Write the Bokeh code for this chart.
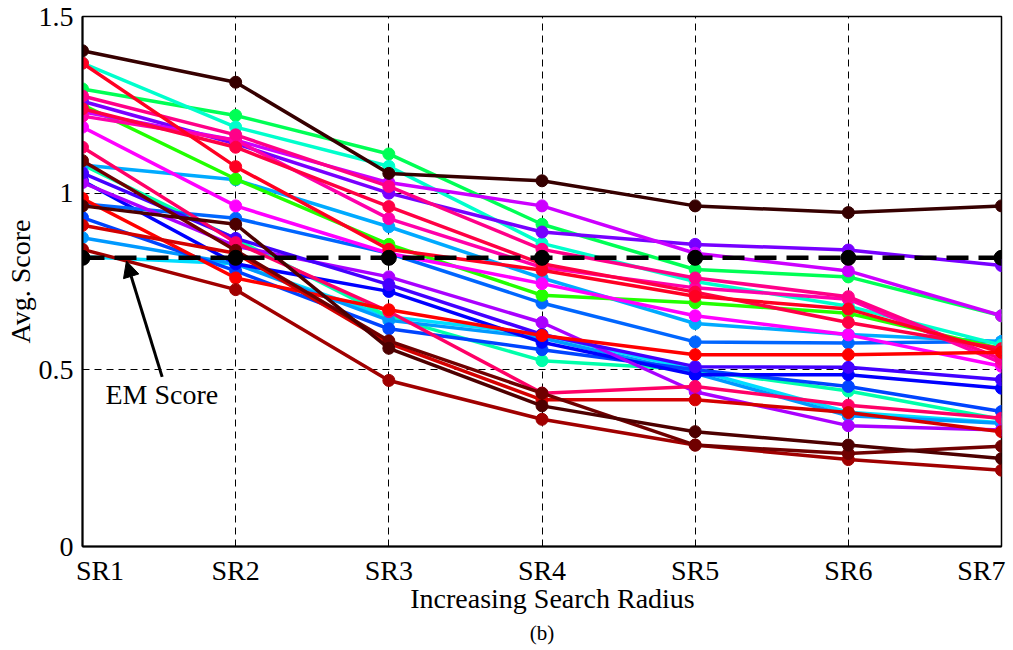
import math
from bokeh.plotting import figure
from bokeh.models import Range1d, FixedTicker, Label, Arrow, NormalHead, Title
from bokeh.embed import file_html
from bokeh.resources import INLINE

categories = ["SR1", "SR2", "SR3", "SR4", "SR5", "SR6", "SR7"]
y_ticks = [0, 0.5, 1, 1.5]
y_tick_labels = ["0", "0.5", "1", "1.5"]

em_score = [0.817, 0.817, 0.817, 0.817, 0.817, 0.817, 0.817]

s_darkbrown = [1.403, 1.314, 1.056, 1.035, 0.964, 0.945, 0.964]
s_crimson1 = [1.368, 1.075, 0.841, 0.782, 0.708, 0.672, 0.55]
s_spring = [1.295, 1.22, 1.111, 0.912, 0.784, 0.763, 0.653]
s_aqua = [1.368, 1.187, 1.076, 0.858, 0.75, 0.68, 0.57]
s_deeppink1 = [1.275, 1.165, 1.019, 0.841, 0.76, 0.707, 0.53]
s_violet = [1.26, 1.14, 1.0, 0.89, 0.855, 0.839, 0.795]
s_crimson2 = [1.239, 1.13, 0.962, 0.80, 0.72, 0.634, 0.56]
s_pink = [1.218, 1.15, 0.928, 0.79, 0.732, 0.70, 0.52]
s_fuchsia = [1.187, 0.964, 0.83, 0.744, 0.653, 0.599, 0.51]
s_green = [1.25, 1.04, 0.855, 0.711, 0.69, 0.66, 0.56]
s_deeppink2 = [1.13, 0.86, 0.665, 0.434, 0.453, 0.40, 0.363]
s_darkmaroon = [0.964, 0.912, 0.561, 0.398, 0.325, 0.287, 0.249]
s_maroon = [1.092, 0.838, 0.582, 0.434, 0.287, 0.263, 0.284]
s_darkred = [0.841, 0.727, 0.47, 0.36, 0.287, 0.246, 0.216]
s_skyblue = [1.08, 1.038, 0.905, 0.76, 0.631, 0.60, 0.58]
s_blueviolet = [1.057, 0.872, 0.741, 0.60, 0.509, 0.507, 0.472]
s_purple = [1.03, 0.85, 0.763, 0.634, 0.438, 0.342, 0.33]
s_lightpurple = [1.23, 1.15, 1.03, 0.964, 0.83, 0.78, 0.653]
s_blue = [1.035, 0.80, 0.722, 0.578, 0.486, 0.486, 0.448]
s_blue2 = [0.931, 0.78, 0.616, 0.557, 0.50, 0.453, 0.382]
s_dodger = [0.97, 0.929, 0.83, 0.689, 0.579, 0.576, 0.58]
s_azure = [0.874, 0.80, 0.64, 0.59, 0.49, 0.37, 0.349]
s_red = [0.985, 0.76, 0.67, 0.597, 0.543, 0.543, 0.55]
s_red2 = [0.909, 0.83, 0.575, 0.415, 0.415, 0.379, 0.325]
s_cyan = [0.82, 0.80, 0.65, 0.60, 0.50, 0.38, 0.35]
s_aquamarine = [1.08, 0.87, 0.65, 0.526, 0.50, 0.44, 0.36]

series = [
    (s_cyan, "#00ddff"), (s_aquamarine, "#00ffaa"), (s_azure, "#0099ff"),
    (s_blue2, "#0044ff"), (s_blue, "#0000ff"), (s_dodger, "#0066ff"),
    (s_skyblue, "#00aaff"), (s_green, "#22ff00"), (s_spring, "#00ff55"),
    (s_aqua, "#00ffcc"), (s_purple, "#aa00ff"), (s_blueviolet, "#4400ff"),
    (s_violet, "#7700ff"), (s_lightpurple, "#cc00ff"), (s_fuchsia, "#ff00ff"),
    (s_pink, "#ff00aa"), (s_deeppink1, "#ff0088"), (s_deeppink2, "#ff0066"),
    (s_crimson2, "#ff0044"), (s_crimson1, "#ff0022"), (s_red, "#ff0000"),
    (s_red2, "#d40000"), (s_darkred, "#a00000"), (s_maroon, "#700000"),
    (s_darkmaroon, "#4d0000"), (s_darkbrown, "#360000"),
]

FONT = "Liberation Serif"
NB = "\u00a0"
xs = list(range(1, len(categories) + 1))

p = figure(width=1012, height=648, output_backend="svg", toolbar_location=None,
           x_range=Range1d(1, 7), y_range=Range1d(0, 1.5),
           min_border_left=82, min_border_right=11, min_border_top=16,
           min_border_bottom=102)
p.outline_line_color = "black"
p.outline_line_width = 1.5
p.background_fill_color = "white"
p.border_fill_color = "white"

# x axis with category labels (first/last nudged inward like the reference)
x_labels = list(categories)
x_labels[0] = NB * 5 + x_labels[0]
x_labels[-1] = x_labels[-1] + NB
p.xaxis.ticker = FixedTicker(ticks=xs)
p.xaxis.major_label_overrides = {x: l for x, l in zip(xs, x_labels)}
p.xaxis.major_label_text_font = FONT
p.xaxis.major_label_text_font_size = "28px"
p.xaxis.major_label_text_color = "black"
p.xaxis.major_label_standoff = 8
p.xaxis.axis_label = NB * 3 + "Increasing Search Radius"
p.xaxis.axis_label_text_font = FONT
p.xaxis.axis_label_text_font_size = "28px"
p.xaxis.axis_label_text_font_style = "normal"
p.xaxis.axis_label_text_color = "black"
p.xaxis.axis_label_standoff = -6
p.xaxis.axis_line_width = 2
p.xaxis.axis_line_color = "black"
p.xaxis.major_tick_out = 0
p.xaxis.major_tick_in = 0
p.xaxis.minor_tick_out = 0
p.xaxis.minor_tick_in = 0

p.yaxis.ticker = FixedTicker(ticks=y_ticks)
p.yaxis.major_label_overrides = {t: l for t, l in zip(y_ticks, y_tick_labels)}
p.yaxis.major_label_text_font = FONT
p.yaxis.major_label_text_font_size = "28px"
p.yaxis.major_label_text_color = "black"
p.yaxis.major_label_standoff = 9
p.yaxis.major_tick_out = 0
p.yaxis.major_tick_in = 0
p.yaxis.minor_tick_out = 0
p.yaxis.minor_tick_in = 0
p.yaxis.axis_line_width = 2
p.yaxis.axis_line_color = "black"

p.add_layout(Title(text="(b)", align="center", text_font=FONT,
                   text_font_size="21px", text_font_style="normal",
                   text_color="black", standoff=4, offset=10), "below")
p.add_layout(Title(text="Avg. Score", align="center", text_font=FONT,
                   text_font_size="28px", text_font_style="normal",
                   text_color="black", standoff=0, offset=76), "left")

# grids
p.xgrid.ticker = FixedTicker(ticks=xs[1:-1])
p.ygrid.ticker = FixedTicker(ticks=[0.5, 1.0])
for g in (p.xgrid, p.ygrid):
    g.grid_line_color = "black"
    g.grid_line_dash = "7 5"
    g.grid_line_width = 1

for vals, col in series:
    p.line(xs, vals, line_color=col, line_width=3.5)
    p.scatter(xs, vals, size=12, fill_color=col, line_color=col)

p.line(xs, em_score, line_color="black", line_width=4.5, line_dash="22 10")
p.scatter(xs, em_score, size=15, fill_color="black", line_color="black")

p.add_layout(Label(x=1.15, y=0.43, text="EM Score", text_align="left",
                   text_baseline="alphabetic", text_font=FONT,
                   text_font_size="28px", text_color="black"))
p.add_layout(Arrow(end=NormalHead(size=16, fill_color="black", line_color="black"),
                   x_start=1.52, y_start=0.48, x_end=1.287, y_end=0.808,
                   line_color="black", line_width=3))

open("out.html", "w").write(file_html(p, INLINE))
